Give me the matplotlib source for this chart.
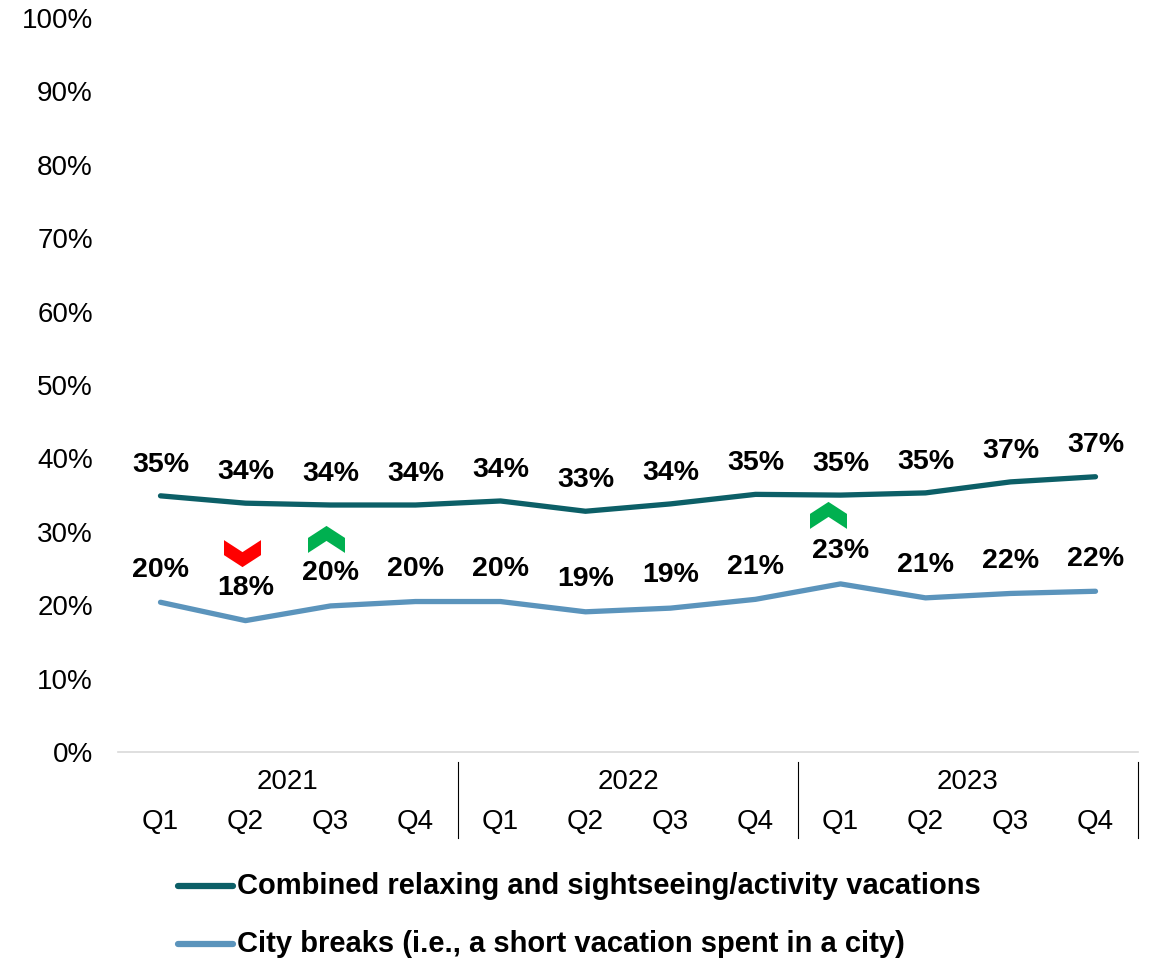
import matplotlib
matplotlib.use("Agg")
import matplotlib.pyplot as plt
from matplotlib.lines import Line2D
from matplotlib.patches import Polygon
from matplotlib.transforms import ScaledTranslation, blended_transform_factory
import numpy as np

plt.rcParams["font.family"] = ["Liberation Sans", "DejaVu Sans"]

# --- data -------------------------------------------------------------
years = ["2021", "2022", "2023"]
quarters = ["Q1", "Q2", "Q3", "Q4"]

series_names = [
    "Combined relaxing and sightseeing/activity vacations",
    "City breaks (i.e., a short vacation spent in a city)",
]
combined = [34.9, 33.9, 33.65, 33.65, 34.2, 32.8, 33.8, 35.1, 35.0, 35.3, 36.8, 37.5]
combined_labels = ["35%", "34%", "34%", "34%", "34%", "33%", "34%", "35%", "35%", "35%", "37%", "37%"]
city = [20.4, 17.9, 19.9, 20.5, 20.5, 19.1, 19.6, 20.8, 22.9, 21.0, 21.6, 21.9]
city_labels = ["20%", "18%", "20%", "20%", "20%", "19%", "19%", "21%", "23%", "21%", "22%", "22%"]

# significant changes on the city-break series: (period index, direction)
changes = [(1, "down"), (2, "up"), (8, "up")]

# --- style ------------------------------------------------------------
dark = "#0C5F67"
light = "#5B94BC"
up_color = "#00B050"
down_color = "#FF0000"
FS = 20
LABEL_FS = 20.5
LEGEND_FS = 21

W, H = 1155, 960
fig = plt.figure(figsize=(W / 100, H / 100), dpi=100)
ax = fig.add_axes([118 / W, 1 - 752 / H, (1138 - 118) / W, (752 - 18) / H])

x = np.arange(len(combined))
ax.plot(x, combined, color=dark, lw=3.8, solid_capstyle="round", solid_joinstyle="round", zorder=3)
ax.plot(x, city, color=light, lw=3.8, solid_capstyle="round", solid_joinstyle="round", zorder=3)

# value labels above each point
for xi, v, t in zip(x, combined, combined_labels):
    ax.annotate(t, (xi, v), xytext=(0, 22.5), textcoords="offset points",
                ha="center", va="center", fontsize=LABEL_FS, fontweight="bold", color="black")
for xi, v, t in zip(x, city, city_labels):
    ax.annotate(t, (xi, v), xytext=(0, 23.5), textcoords="offset points",
                ha="center", va="center", fontsize=LABEL_FS, fontweight="bold", color="black")

# change chevrons (shape in pixels, y up)
chev_up = np.array([(-18.5, -13.5), (-18.5, 1.5), (0, 13.5), (18.5, 1.5), (18.5, -13.5), (0, -1.5)])
chev_offsets = {1: (-3, 67), 2: (-4, 66.5), 8: (-12, 68.5)}
for idx, direction in changes:
    verts = chev_up.copy()
    if direction == "down":
        verts[:, 1] = -verts[:, 1]
    dx, dy = chev_offsets[idx]
    verts = (verts + np.array([dx, dy])) / 100.0
    trans = fig.dpi_scale_trans + ScaledTranslation(x[idx], city[idx], ax.transData)
    ax.add_patch(Polygon(verts, closed=True, transform=trans,
                         facecolor=up_color if direction == "up" else down_color,
                         edgecolor="none", zorder=4, clip_on=False))

# axes formatting
ax.set_xlim(-0.5, len(combined) - 0.5)
ax.set_ylim(0, 100)
ax.set_yticks(np.arange(0, 101, 10))
ax.set_yticklabels([f"{v}%" for v in range(0, 101, 10)], fontsize=FS)
ax.tick_params(axis="y", length=0, pad=18)
ax.set_xticks([])
for s in ["top", "right", "left"]:
    ax.spines[s].set_visible(False)
ax.spines["bottom"].set_color("#D9D9D9")
ax.spines["bottom"].set_linewidth(1.2)

# two-level category axis
axh = 752 - 18
tr = blended_transform_factory(ax.transData, ax.transAxes)
for i, q in enumerate(quarters * len(years)):
    ax.text(i, -(822 - 752) / axh, q, transform=tr, ha="center", va="center",
            fontsize=FS, clip_on=False)
for j, yr in enumerate(years):
    ax.text(j * 4 + 1.5, -(782 - 752) / axh, yr, transform=tr, ha="center", va="center",
            fontsize=FS, clip_on=False)
    xs = j * 4 + 3.5
    ax.plot([xs, xs], [-(762 - 752) / axh, -(838 - 752) / axh], transform=tr,
            color="black", lw=0.8, clip_on=False)

# legend
for yy, col, name in [(886, dark, series_names[0]), (944, light, series_names[1])]:
    fig.add_artist(Line2D([178 / W, 233 / W], [1 - yy / H, 1 - yy / H], color=col,
                          lw=4.5, solid_capstyle="round"))
    fig.text(237 / W, 1 - yy / H, name, ha="left", va="center", fontsize=LEGEND_FS,
             fontweight="bold", color="black")

fig.savefig("out.png", dpi=100)
